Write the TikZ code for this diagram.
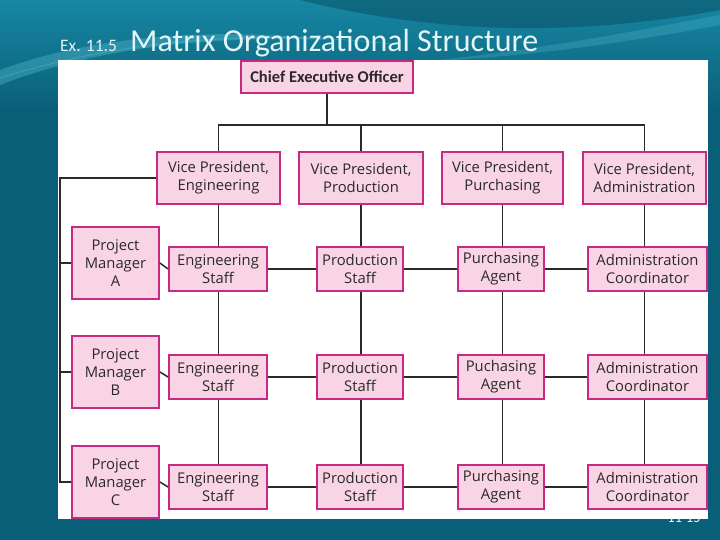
\documentclass[tikz,border=0pt]{standalone}
\usepackage{fontspec}
\setmainfont{Carlito}
\newfontfamily\boxfont{Open Sans}
\definecolor{slidebg}{HTML}{0A5F78}
\definecolor{slidetop}{HTML}{1787A3}
\definecolor{swoosh}{HTML}{5FC3D8}
\definecolor{boxfill}{HTML}{F9D4E4}
\definecolor{boxline}{HTML}{C82A82}
\definecolor{linkcol}{HTML}{2A2A2A}
\definecolor{titlecol}{HTML}{E2F5F8}
\begin{document}
\begin{tikzpicture}[x=1pt,y=-1pt,
  orgbox/.style={draw=boxline, fill=boxfill, line width=1.8pt, inner sep=0pt,
    align=center, text=linkcol, font=\boxfont\fontsize{14.8}{18.3}\selectfont},
  link/.style={draw=linkcol, line width=1.5pt},
  vlink/.style={draw=linkcol, line width=1.2pt}]
\useasboundingbox (0,0) rectangle (720,540);
% background
\fill[slidebg] (0,0) rectangle (720,540);
\shade[top color=slidetop, bottom color=slidebg] (0,0) rectangle (720,110);
\fill[slidebg!80!black, opacity=0.5] (300,0) .. controls (420,30) and (560,40) .. (720,10) -- (720,0) -- cycle;
\fill[swoosh, opacity=0.35] (0,70) .. controls (80,40) and (200,25) .. (330,40) .. controls (200,35) and (90,50) .. (0,85) -- cycle;
\fill[swoosh, opacity=0.25] (420,62) .. controls (540,50) and (640,30) .. (720,15) -- (720,25) .. controls (640,40) and (540,56) .. (420,62) -- cycle;
\draw[swoosh, opacity=0.5, line width=0.6pt] (0,78) .. controls (120,40) and (260,28) .. (400,45);
% title
\node[anchor=base west, text=titlecol, font=\fontsize{17.5}{18}\selectfont, inner sep=0pt] (exno) at (60,52) {Ex. 11.5};
\node[anchor=base west, text=titlecol, font=\fontsize{32}{34}\selectfont, inner sep=0pt] (title) at (130,52) {Matrix Organizational Structure};
% page number (mostly hidden by panel)
\node[text=white, font=\fontsize{14}{14}\selectfont, inner sep=0pt] (pgno) at (684,518) {11-15};
% white panel
\fill[white] (58,60) rectangle (708,519);
% boxes
\node[orgbox, minimum width=172pt, minimum height=32pt, font=\bfseries\fontsize{16.5}{18}\selectfont] (ceo) at (327,77) {Chief Executive Officer};
\node[orgbox, minimum width=123pt, minimum height=52pt] (vpE) at (218.5,178) {Vice President,\\Engineering};
\node[orgbox, minimum width=124pt, minimum height=52pt] (vpP) at (361,178) {Vice President,\\Production};
\node[orgbox, minimum width=121pt, minimum height=52pt] (vpU) at (502.5,178) {Vice President,\\Purchasing};
\node[orgbox, minimum width=123pt, minimum height=52pt] (vpA) at (644.5,178) {Vice President,\\Administration};
\foreach \r/\y/\L in {A/263/A, B/372/B, C/482/C}{
  \node[orgbox, minimum width=87pt, minimum height=72pt] (pm\r) at (115.5,\y) {Project\\Manager\\\L};
}
\foreach \r/\y/\pur in {A/269/Purchasing, B/377/Puchasing, C/487/Purchasing}{
  \node[orgbox, minimum width=98pt, minimum height=44pt] (eng\r) at (218,\y) {Engineering\\Staff};
  \node[orgbox, minimum width=86pt, minimum height=44pt] (prod\r) at (360,\y) {Production\\Staff};
  \node[orgbox, minimum width=86pt, minimum height=44pt] (pur\r) at (501,\y) {\pur\\Agent};
  \node[orgbox, minimum width=119pt, minimum height=44pt] (adm\r) at (647.5,\y) {Administration\\Coordinator};
}
% connectors
\coordinate (bus) at (0,125);
\coordinate (lx) at (60,0);
\draw[link] (ceo.south) -- (ceo.south |- bus);
\draw[link] (vpE.north) |- (bus -| vpA.north) -- (vpA.north);
\draw[link] (vpP.north) -- (vpP.north |- bus);
\draw[link] (vpU.north) -- (vpU.north |- bus);
\draw[link] (vpE.west) -- (vpE.west -| lx) -- (pmC.west -| lx) -- (pmC.west);
\draw[link] (pmA.west -| lx) -- (pmA.west);
\draw[link] (pmB.west -| lx) -- (pmB.west);
\foreach \r in {A,B,C}{
  \draw[link] (pm\r.east) -- (eng\r.west);
  \draw[link] (eng\r.east) -- (prod\r.west);
  \draw[link] (prod\r.east) -- (pur\r.west);
  \draw[link] (pur\r.east) -- (adm\r.west);
}
\foreach \c/\v in {eng/vpE, prod/vpP, pur/vpU, adm/vpA}{
  \draw[vlink] (\v.south) -- (\v.south |- \c A.north)
               (\v.south |- \c A.south) -- (\v.south |- \c B.north)
               (\v.south |- \c B.south) -- (\v.south |- \c C.north);
}
\end{tikzpicture}
\end{document}
